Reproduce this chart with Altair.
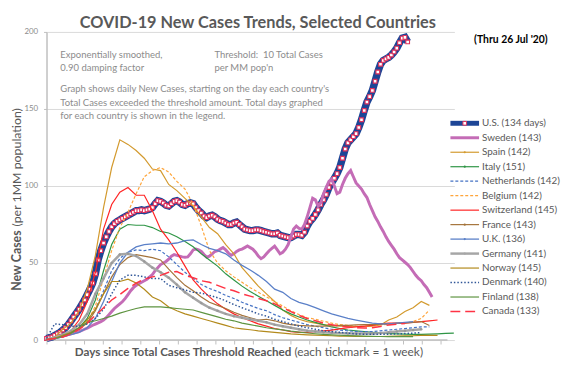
import altair as alt
import pandas as pd

FONT = "Lato"

# ---------------- data ----------------
countries = ["U.S.", "Sweden", "Spain", "Italy", "Netherlands", "Belgium", "Switzerland",
             "France", "U.K.", "Germany", "Norway", "Denmark", "Finland", "Canada"]
legend_labels = ["U.S. (134 days)", "Sweden (143)", "Spain (142)", "Italy (151)",
                 "Netherlands (142)", "Belgium (142)", "Switzerland (145)", "France (143)",
                 "U.K. (136)", "Germany (141)", "Norway (145)", "Denmark (140)",
                 "Finland (138)", "Canada (133)"]
# days between stored samples for each series
sample_step = [1, 1, 3, 3, 3, 3, 3, 3, 3, 3, 3, 3, 3, 3]

us = [1, 1.5, 2, 3, 4, 5, 6.5, 8, 10, 12.5,
      15, 17.5, 20, 23, 26, 29.5, 33, 37, 43, 52,
      58, 63, 67, 70.5, 73.5, 75.5, 77, 78, 79, 80,
      81, 82, 83, 84, 84, 84.5, 84, 84.5, 85, 86,
      88.5, 90.5, 90, 89, 87.5, 87, 88.5, 90, 90.5, 89.5,
      88, 87.5, 88.5, 89, 88.5, 86, 84, 82.5, 80.5, 79.5,
      80.5, 81, 80, 78.5, 77.5, 77, 76, 75, 75, 76,
      76.5, 75, 73.5, 72, 71.5, 71, 71, 71.5, 71.5, 71,
      70.5, 70, 69.5, 69, 69, 69.5, 68, 67.5, 67, 66.5,
      66.5, 67.5, 68.5, 68.5,
      68, 70, 74, 77, 79, 81.5, 84.5, 88, 91, 94.5,
      99, 102, 105, 108, 112, 118, 124, 128, 130, 132,
      134, 138, 143, 149, 154.5, 158, 162, 168, 174, 179,
      181.5, 182.5, 183.5, 185, 187, 189.5, 193, 196, 196.5, 193.5]

sweden = [0.3, 0.6, 1, 1.4, 1.8, 2.2, 2.6, 3, 3.5, 4,
          4.5, 5, 5.5, 6.2, 7, 7.8, 8.6, 9.6, 10.4, 11.2,
          12, 13, 14.5, 16.5, 18.5, 20.5, 22, 23.5, 25, 27,
          29.5, 32, 34, 35.5, 36.5, 37.5, 38.5, 39.5, 41, 42.5,
          45, 47, 49, 50, 51, 52.5, 54.5, 55.5, 55, 54.5,
          54, 53.8, 54, 56, 58.5, 59, 58.5, 57.5, 55.5, 53.8,
          54.5, 56, 57.5, 58, 59, 60, 58.5, 56.5, 55, 56,
          57.5, 58.5, 59, 60, 61, 60, 59, 57, 54.5, 52.8,
          54, 56, 58, 59.5, 61, 58.5, 56, 57, 59, 62,
          67, 72, 74, 72.5, 72, 75, 80, 86, 92, 91,
          87, 89, 95, 99, 103, 104.5, 100, 95, 96, 101,
          105, 108, 110, 106, 102, 100, 98, 95, 92.5, 88,
          84, 80, 77, 73.5, 70.5, 67, 64, 61.5, 59, 56,
          53.5, 52, 50.5, 49, 47, 44.5, 42, 40, 38.5, 36,
          34, 31, 28]

spain = [0.3, 2, 7, 11, 19, 33, 55, 86, 112, 130, 127, 123, 118, 111, 110, 101,
         97, 92, 87, 80, 73, 69, 62, 56, 47, 41, 35, 30, 25, 19.5, 16, 13.5,
         12, 11, 10, 9.5, 9, 8.8, 8.8, 8.8, 9, 9.8, 13, 15, 18.5, 21, 25, 22.5]

italy = [0.3, 1, 3, 5, 8, 14, 26, 45, 62, 72, 75, 74.5, 74.5, 73, 70.5, 69.5, 67,
         64, 60.5, 56, 52, 48, 43, 39, 35, 31.5, 28.5, 25.5, 22.5, 19.5, 17, 15,
         13, 11.5, 10, 8.5, 7.5, 6.5, 6, 5.5, 5, 4.5, 4.2, 4, 3.8, 3.7, 3.7, 3.8,
         4, 4.3, 4.5]

netherlands = [0.3, 1, 2.5, 4, 7, 12, 20, 32, 45, 53, 57, 58.5, 58, 59, 58, 54,
               49, 44, 40, 36, 33.5, 31.5, 29, 27, 24.5, 22.5, 20.5, 19, 16.5, 14.5,
               13, 11.5, 10, 9, 8, 7, 6.5, 6, 5.5, 5.5, 5.5, 6, 6.5, 7, 7.5, 8, 8.5, 8.5]

belgium = [0.3, 1, 2, 4, 7, 12, 22, 40, 58, 73, 83, 95, 106, 110, 112, 109,
           103, 98, 88, 74, 58, 50, 45, 41, 37.5, 34, 31, 28, 25, 22, 19, 16.5,
           14.5, 13.5, 12.2, 11, 10, 9.5, 9, 8.8, 9, 9.8, 10.3, 10.7, 11.2, 12, 14, 19.5]

switzerland = [0.3, 1.5, 3, 6, 13, 25, 44, 72, 88, 96, 99, 94, 94, 84, 72, 65,
               57, 48, 39, 33, 28, 23.5, 20, 17, 14.5, 12.5, 10.5, 9, 7.5, 6.5,
               5.5, 5, 5, 5.5, 6, 6.5, 7.3, 8, 8.5, 9, 9.5, 10.5, 11, 11, 11,
               11.5, 12, 12.5, 13]

france = [0.3, 1, 2.5, 4.5, 7, 11, 19, 30, 41, 49, 53.5, 55.5, 54.5, 53.5, 52, 46,
          40.5, 35.5, 32, 28, 24.5, 22.5, 20.5, 18, 16, 14.5, 13, 13.5, 12.5, 11,
          10, 9.5, 9.2, 9, 9, 9.2, 9.5, 9.5, 9.8, 10, 10, 10.3, 10.5, 11, 11.2,
          11.5, 12, 9.5]

uk = [0.3, 1, 2, 3.5, 5, 8, 14, 25, 38, 50, 57, 60.5, 62, 62.5, 63, 62.5,
      63, 64.5, 65, 62, 59.5, 58, 56, 52, 48.5, 45.5, 42, 38, 33, 31,
      27, 24.5, 23, 21, 19, 17, 15.5, 14, 13, 12, 11, 10.5, 10.5, 11, 11.5, 12]

germany = [0.5, 1.5, 3.5, 6, 10, 17, 30, 40, 50, 55.5, 56, 54.5, 51, 47, 44, 40.5,
           36, 31, 27.5, 24, 21, 19, 17, 15.5, 14.5, 13.5, 12.5, 11.5, 10, 9,
           8, 7, 6, 5.5, 5, 4.8, 4.5, 4.3, 4.2, 4.2, 4.3, 4.5, 5, 5.5, 6, 6.5, 7]

norway = [0.3, 1.2, 3, 5, 8, 13, 20, 30, 38, 38, 39.5, 37, 33, 28, 25.5, 21.5,
          19, 17, 15.5, 14, 12.5, 11, 9.5, 8, 7.3, 6.7, 6, 5.5, 5, 4.5,
          4, 3.7, 3.4, 3.2, 3, 2.8, 2.6, 2.5, 2.4, 2.3, 2.3, 2.3, 2.4, 2.5, 2.7,
          2.8, 3, 3, 3]

denmark = [1, 10.5, 10, 9, 9, 10.5, 14, 20, 30, 39, 42, 42, 41, 40, 40, 35.5,
           34, 32.5, 31, 30.5, 29, 27.5, 25.5, 23, 21, 19, 17, 15.5, 13.5, 12,
           10.5, 9, 8, 7, 6, 5.5, 5, 4.5, 4, 3.8, 3.7, 3.7, 3.8, 4, 4.2, 4.5, 4.8]

finland = [0.3, 1, 2.5, 4.5, 8, 11.5, 12.5, 14, 15.5, 17.5, 19, 20.5, 21.5, 21.5,
           21.5, 21, 20.5, 20, 19.5, 18, 16.5, 15, 13.5, 12.5, 11, 10, 9, 8, 7.2,
           6.6, 5.8, 5.2, 4.6, 4.1, 3.7, 3.4, 3.1, 2.9, 2.7, 2.5, 2.4, 2.3, 2.2,
           2.2, 2.2, 2.2]

canada = [0.3, 1, 2, 4, 7, 11, 16, 21, 26, 29.5, 33.5, 37, 39.5, 41, 42,
          44, 44.5, 42, 40.5, 38.5, 37.5, 35.5, 33.5, 32, 30,
          28.5, 27, 25.5, 23.5, 21, 18.5, 16, 14, 12.5, 11,
          10, 9, 8.5, 8, 7.8, 8, 8.8, 9.8, 10.3, 10.8]

series_values = [us, sweden, spain, italy, netherlands, belgium, switzerland,
                 france, uk, germany, norway, denmark, finland, canada]

y_ticks = [0, 50, 100, 150, 200]

# ---------------- styles ----------------
styles = {
    "U.S.":        dict(color="#1D4596", strokeWidth=7.5),
    "Sweden":      dict(color="#C46CB6", strokeWidth=3),
    "Spain":       dict(color="#D39A2E", strokeWidth=1.2),
    "Italy":       dict(color="#2E9545", strokeWidth=1.2),
    "Netherlands": dict(color="#4472C4", strokeWidth=1.2, strokeDash=[3, 2]),
    "Belgium":     dict(color="#FFA53A", strokeWidth=1.2, strokeDash=[3, 2]),
    "Switzerland": dict(color="#FF2424", strokeWidth=1.2),
    "France":      dict(color="#A4733A", strokeWidth=1.2),
    "U.K.":        dict(color="#5B80C8", strokeWidth=1.3),
    "Germany":     dict(color="#A6A6A6", strokeWidth=2.5),
    "Norway":      dict(color="#B38A1C", strokeWidth=1.2),
    "Denmark":     dict(color="#2F5597", strokeWidth=1.5, strokeDash=[1.5, 2]),
    "Finland":     dict(color="#5E9440", strokeWidth=1.2),
    "Canada":      dict(color="#FF3344", strokeWidth=1.5, strokeDash=[10, 5]),
}

rows = []
for name, vals, step in zip(countries, series_values, sample_step):
    for i, v in enumerate(vals):
        rows.append({"country": name, "day": i * step, "value": v})
df = pd.DataFrame(rows)
one = pd.DataFrame({"k": [0]})

PX_PER_DAY = 2.75
tick_vals = [round(k * 19 / PX_PER_DAY, 3) for k in range(22)]

x_enc = alt.X("day:Q", scale=alt.Scale(domain=[0, 150.2], nice=False, zero=False),
              axis=alt.Axis(values=tick_vals, labels=False, ticks=True, tickSize=4,
                            tickColor="#BFBFBF", tickWidth=1, domain=False, grid=False,
                            title=None))
y_enc = alt.Y("value:Q", scale=alt.Scale(domain=[0, 200], nice=False),
              axis=alt.Axis(values=y_ticks, grid=True, gridColor="#D9D9D9", gridWidth=1,
                            domain=True, domainColor="#BFBFBF", domainWidth=1.5,
                            tickSize=3, tickColor="#BFBFBF", labelFontSize=8,
                            labelColor="#8C8C8C", labelPadding=6, labelFont=FONT,
                            title=None))

layers = []
# x axis line
layers.append(alt.Chart(one).mark_rule(color="#BFBFBF", strokeWidth=1.5).encode(
    x=alt.value(0), x2=alt.value(406), y=alt.value(312)))

for name in countries:
    st = styles[name]
    base = alt.Chart(df).transform_filter(alt.datum.country == name)
    layers.append(base.mark_line(**st).encode(x=x_enc, y=y_enc))
    if name == "U.S.":
        layers.append(base.mark_square(size=14, filled=False, fill="white", fillOpacity=1,
                                       stroke="#E0305A", strokeWidth=1.1, opacity=1)
                      .encode(x=x_enc, y=y_enc))
    if name == "Germany":
        layers.append(base.mark_circle(size=6, color="#999999", opacity=1)
                      .encode(x=x_enc, y=y_enc))


def text(s, x, y, size, color="#8C8C8C", weight="normal", align="left", angle=0):
    return alt.Chart(one).mark_text(font=FONT, fontSize=size, color=color,
                                    fontWeight=weight, align=align, baseline="middle",
                                    angle=angle).encode(
        x=alt.value(x), y=alt.value(y), text=alt.value(s))


# title & notes (positions relative to plot origin)
layers.append(text("COVID-19 New Cases Trends, Selected Countries", 214, -9, 16.5,
                   color="#595959", weight="bold", align="center"))
layers.append(text("(Thru 26 Jul '20)", 433, 8, 10.5, color="#000000", weight="bold"))
note_col = "#8C8C8C"
layers.append(text("Exponentially smoothed,", 14, 23, 9.6, note_col))
layers.append(text("0.90 damping factor", 14, 37, 9.6, note_col))
layers.append(text("Threshold:\u00a0 10 Total Cases", 170, 23, 9.6, note_col))
layers.append(text("per MM pop'n", 170, 37, 9.6, note_col))
layers.append(text("Graph shows daily New Cases, starting on the day each country's", 14, 58, 9.6, note_col))
layers.append(text("Total Cases exceeded the threshold amount. Total days graphed", 14, 71.5, 9.6, note_col))
layers.append(text("for each country is shown in the legend.", 14, 85, 9.6, note_col))

# axis titles
layers.append(text("New Cases", -30, 201, 12.5, "#595959", "bold", "right", 270))
layers.append(text("(per 1MM population)", -30, 197, 12.5, "#595959", "normal", "left", 270))
layers.append(text("Days since Total Cases Threshold Reached", 248, 324, 11.8, "#595959", "bold", "right"))
layers.append(text("(each tickmark = 1 week)", 251, 324, 12, "#595959", "normal", "left"))

# legend
for i, (name, label) in enumerate(zip(countries, legend_labels)):
    ly = 92.5 + 14.66 * i
    st = dict(styles[name])
    st["strokeWidth"] = min(st["strokeWidth"], 5)
    layers.append(alt.Chart(one).mark_rule(**st).encode(
        x=alt.value(409), x2=alt.value(438), y=alt.value(ly)))
    if name == "U.S.":
        layers.append(alt.Chart(one).mark_square(size=14, filled=False, fill="white",
                                                 fillOpacity=1, stroke="#E0305A",
                                                 strokeWidth=1).encode(
            x=alt.value(423.5), y=alt.value(ly)))
    if name in ("Spain", "Italy", "France", "U.K.", "Germany"):
        layers.append(alt.Chart(one).mark_circle(size=5, color=styles[name]["color"],
                                                 opacity=1).encode(
            x=alt.value(423.5), y=alt.value(ly)))
    layers.append(text(label, 441, ly, 10, "#595959"))

chart = alt.layer(*layers).properties(
    width=413, height=312,
    autosize=alt.AutoSizeParams(type="none"),
    padding={"left": 39, "top": 22, "right": 110, "bottom": 21},
    background="white",
).configure_view(stroke=None)

chart.save("out.html", embed_options={"renderer": "svg", "actions": False})
